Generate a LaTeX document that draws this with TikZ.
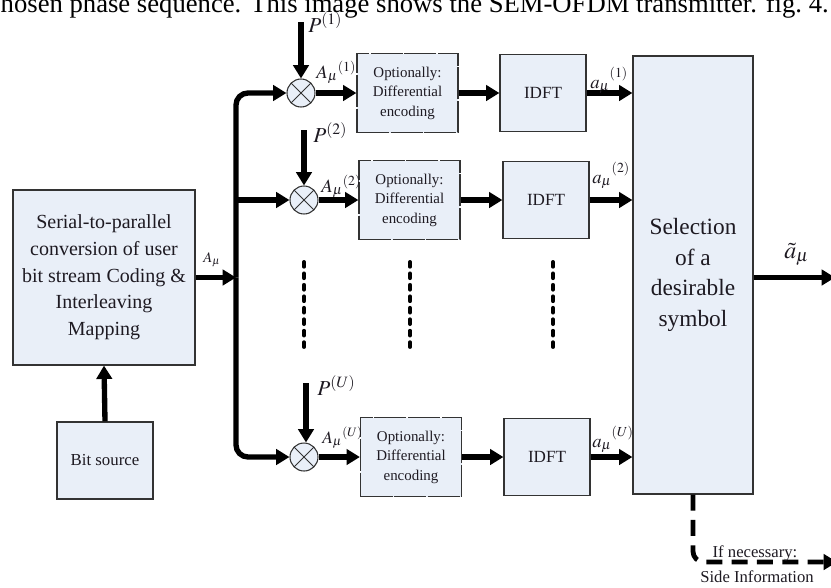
\documentclass[tikz,border=0pt]{standalone}
\usepackage{mathptmx}
\usepackage[no-math]{fontspec}
\setmainfont{Liberation Serif}
\usetikzlibrary{arrows.meta}
\definecolor{boxfill}{HTML}{E9EFF8}
\definecolor{boxline}{HTML}{333333}
\definecolor{txt}{HTML}{1E1A22}
\newcommand\Alab[1]{$A_{\mu}{}^{(#1)}$}
\newcommand\alab[1]{$a_{\mu}{}^{\raisebox{3pt}{$\scriptstyle(#1)$}}$}
\begin{document}
\begin{tikzpicture}[x=0.75pt,y=-0.75pt,
  blk/.style={draw=boxline, fill=boxfill, line width=0.9pt, inner sep=0pt, align=center, text=txt},
  debox/.style={blk, dash pattern=on 24pt off 1.2pt, minimum width=75.75pt, minimum height=59.25pt, font=\fontsize{11.2}{14.6}\selectfont},
  idbox/.style={blk, minimum width=64.5pt, minimum height=57.75pt, font=\fontsize{12.8}{15}\selectfont},
  mult/.style={circle, draw=boxline, fill=boxfill, line width=0.8pt, minimum size=21pt, inner sep=0pt,
    path picture={\draw[line width=0.6pt, boxline] (path picture bounding box.north west) -- (path picture bounding box.south east)
      (path picture bounding box.north east) -- (path picture bounding box.south west);}},
  arr/.style={line width=4pt, -{Triangle[length=10pt,width=11.5pt]}},
  bus/.style={line width=4pt},
  vdots/.style={line width=3pt, line cap=round, dash pattern=on 3.5pt off 5.1pt},
  sideline/.style={line width=3.6pt, dash pattern=on 12pt off 7pt, -{Triangle[length=10pt,width=11.5pt]}},
  lab/.style={anchor=base west, inner sep=0pt, text=txt},
]
\useasboundingbox (0,0) rectangle (831,587);
\clip (0,0) rectangle (831,587);
% caption fragment
\node[anchor=base east, inner sep=0pt, font=\fontsize{20}{24}\selectfont] (cap) at (829,12)
  {chosen phase sequence. This image shows the SEM-OFDM transmitter. fig.~4.};
% blocks
\node[blk, minimum width=136.5pt, minimum height=131.25pt, font=\fontsize{15}{20}\selectfont] (sp) at (104,277.5)
  {Serial-to-parallel\\conversion of user\\bit stream Coding \&\\Interleaving\\Mapping};
\node[blk, minimum width=72pt, minimum height=57.75pt, font=\fontsize{12.6}{15}\selectfont] (bs) at (105,460.5) {Bit source};
\node[mult] (m1) at (301,93) {};
\node[mult] (m2) at (304,200) {};
\node[mult] (m3) at (304,457) {};
\node[debox] (de1) at (407.5,93) {Optionally:\\Differential\\encoding};
\node[debox] (de2) at (409.5,200) {Optionally:\\Differential\\encoding};
\node[debox] (de3) at (411,457) {Optionally:\\Differential\\encoding};
\node[idbox] (id1) at (543,93) {IDFT};
\node[idbox] (id2) at (546,200) {IDFT};
\node[idbox] (id3) at (547,457) {IDFT};
\node[blk, minimum width=90pt, minimum height=328.5pt, font=\fontsize{17.5}{23}\selectfont] (sel) at (693,275)
  {Selection\\of a\\desirable\\symbol};
% coordinates
\coordinate (busc) at (236,277.5);
\coordinate (p1) at (301,22);
\coordinate (p2) at (304,130);
\coordinate (p3) at (306,383);
\coordinate (outend) at (835,277.5);
\coordinate (sideend) at (837,562);
% connectors
\draw[arr] (bs.north) -- (sp.south);
\draw[arr] (sp.east) -- (busc);
\draw[bus, rounded corners=9pt, -{Triangle[length=10pt,width=11.5pt]}] (busc) |- (m1);
\draw[bus, rounded corners=9pt, -{Triangle[length=10pt,width=11.5pt]}] (busc) |- (m3);
\draw[arr] (m2 -| busc) -- (m2);
\draw[arr] (p1) -- (m1);
\draw[arr] (p2) -- (m2);
\draw[arr] (p3) -- (m3.north -| p3);
\draw[arr] (m1) -- (de1);
\draw[arr] (m2) -- (de2);
\draw[arr] (m3) -- (de3);
\draw[arr] (de1) -- (id1);
\draw[arr] (de2) -- (id2);
\draw[arr] (de3) -- (id3);
\draw[arr] (id1) -- (id1 -| sel.west);
\draw[arr] (id2) -- (id2 -| sel.west);
\draw[arr] (id3) -- (id3 -| sel.west);
\draw[arr] (sel.east |- busc) -- (outend);
\draw[sideline, rounded corners=8pt] (sel.south) |- (sideend);
% dotted continuation marks
\coordinate (d1a) at (304,262); \coordinate (d1b) at (304,350);
\coordinate (d2a) at (410,262); \coordinate (d2b) at (410,350);
\coordinate (d3a) at (553,262); \coordinate (d3b) at (553,350);
\draw[vdots] (d1a) -- (d1b);
\draw[vdots] (d2a) -- (d2b);
\draw[vdots] (d3a) -- (d3b);
% labels
\node[lab, font=\fontsize{11}{13}\selectfont] (lA) at (203,262) {$A_{\mu}$};
\node[lab, font=\fontsize{16}{18}\selectfont] (lp1) at (308,32) {$P^{(1)}$};
\node[lab, font=\fontsize{16}{18}\selectfont] (lp2) at (313,142) {$P^{(2)}$};
\node[lab, font=\fontsize{16}{18}\selectfont] (lp3) at (317,395) {$P^{(U)}$};
\node[lab, font=\fontsize{14}{16}\selectfont] (la1) at (316,78) {\Alab{1}};
\node[lab, font=\fontsize{14}{16}\selectfont] (la2) at (321,192) {\Alab{2}};
\node[lab, font=\fontsize{13}{15}\selectfont] (la3) at (322,443) {\Alab{U}};
\node[lab, font=\fontsize{14}{16}\selectfont] (lb1) at (590,88) {\alab{1}};
\node[lab, font=\fontsize{14}{16}\selectfont] (lb2) at (592,183) {\alab{2}};
\node[lab, font=\fontsize{14}{16}\selectfont] (lb3) at (592,447) {\alab{U}};
\node[lab, font=\fontsize{18}{20}\selectfont] (lout) at (784,258) {$\tilde{a}_{\mu}$};
\node[anchor=base, inner sep=0pt, text=txt, font=\fontsize{12.5}{14}\selectfont] (lif) at (755,557) {If necessary:};
\node[anchor=base, inner sep=0pt, text=txt, font=\fontsize{12.5}{14}\selectfont] (lside) at (757,582) {Side Information};
\end{tikzpicture}
\end{document}
